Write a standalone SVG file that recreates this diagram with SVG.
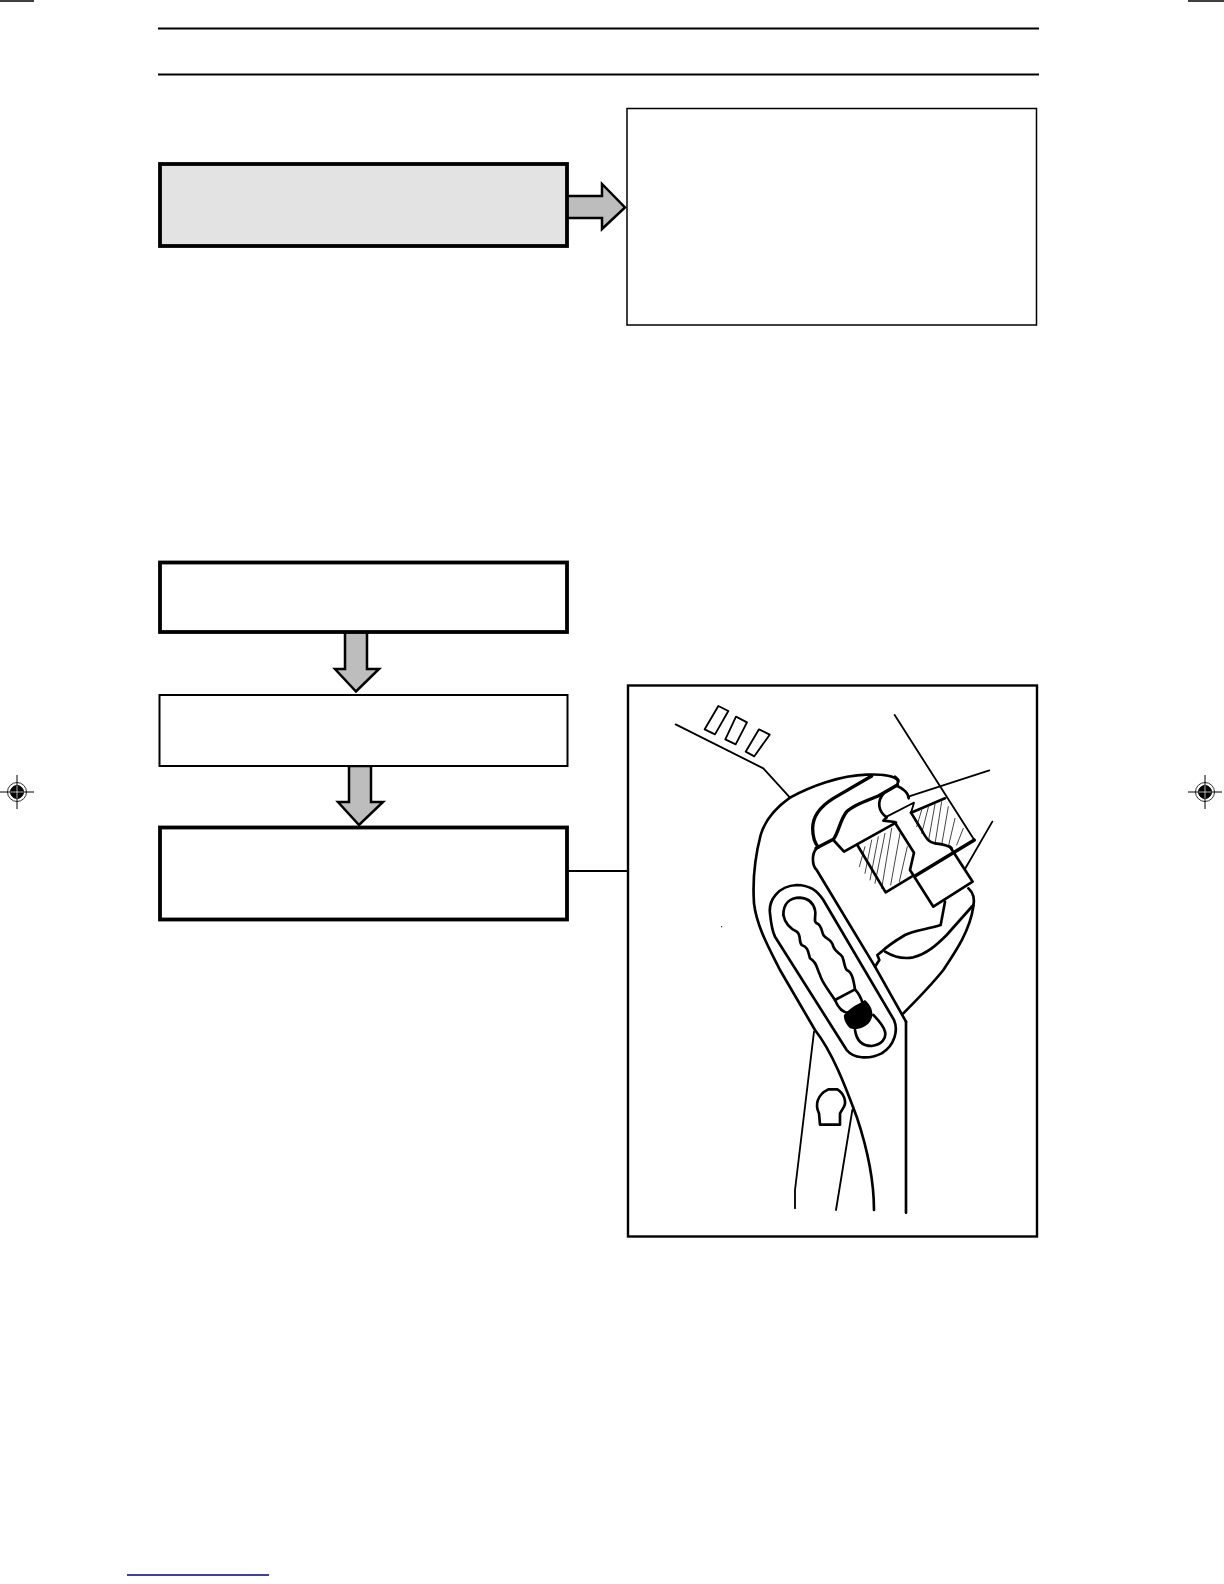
<svg xmlns="http://www.w3.org/2000/svg" width="1224" height="1584" viewBox="0 0 1224 1584">
<style>
.k{fill:none;stroke:#000;stroke-linejoin:round;stroke-linecap:round}
.h{stroke-width:10}.m{stroke-width:8}.t{stroke-width:5.500}.x{stroke-width:2.200}
.box{fill:#fff;stroke:#000}
.arr{fill:#bdbdbd;stroke:#000;stroke-width:2.500;stroke-linejoin:miter}
</style>
<defs>
<g id="reg">
<circle r="9.500" fill="none" stroke="#000" stroke-width="0.800"/>
<circle r="6.500" fill="#000"/>
<path d="M-17 0H17M0-17V17" stroke="#000" stroke-width="1"/>
<path d="M-6.500 0H6.500M0-6.500V6.500" stroke="#fff" stroke-width="0.700"/>
</g>
</defs>
<rect width="1224" height="1584" fill="#fff"/>
<g id="page-marks" stroke="#000" fill="none">
<path d="M0 1H34M1188 1H1224" stroke-width="1.500"/>
<path d="M158 28.500H1039M158 74.500H1039" stroke-width="2"/>
<use href="#reg" x="17" y="792"/>
<use href="#reg" x="1205" y="792"/>
<path d="M127 1575H269" stroke="#00007f" stroke-width="1.600"/>
</g>
<g id="connectors">
<path class="arr" d="M566 196H602V184L625 207.500L602 229V218H566Z"/>
<path class="arr" d="M345 632V669H335L356 691.500L379 669H367V632Z"/>
<path class="arr" d="M349 766V802H338L359 825L383 802H371V766Z"/>
<path d="M568 871H628" stroke="#000" stroke-width="1.800" fill="none"/>
</g>
<g id="node-top-left"><rect class="box" x="160" y="164" width="407" height="82" style="fill:#e3e3e3" stroke-width="3.800"/></g>
<g id="node-top-right"><rect class="box" x="627" y="108.500" width="409.500" height="216.500" stroke-width="1.500"/></g>
<g id="node-step-1"><rect class="box" x="160" y="562.500" width="407" height="69.500" stroke-width="3.800"/></g>
<g id="node-step-2"><rect class="box" x="159.500" y="695" width="408" height="71" stroke-width="2"/></g>
<g id="node-step-3"><rect class="box" x="160" y="827.500" width="407" height="92" stroke-width="3.800"/></g>
<g id="node-wrench">
<rect class="box" x="628" y="685.500" width="409" height="551" stroke-width="2.400"/>
<g transform="translate(620 670) scale(.33333)">
<path class="k x" d="M735 530L718 590M755 510L735 610M775 500L750 630M795 490L765 640M815 475L785 655M840 490L812 645M862 530L838 635M905 420L890 470M925 412L905 490M945 403L925 515M965 395L945 522M985 410L965 525M1005 445L985 530M1030 475L1010 525"/>
<path class="k t" d="M167 163L430 295L510 383"/>
<path class="k t" d="M295 108L325 123L285 193L254 178ZM348 140L381 157L347 223L316 208ZM417 178L449 194L403 259L377 245Z"/>
<path class="k t" d="M824 135L1063 510"/>
<path class="k t" d="M1108 301L865 380"/>
<path class="k t" d="M1117 455L1035 597"/>
<path class="k m" d="M835 335C830 318 790 312 740 314C660 316 570 350 510 383C465 415 435 450 422 495C405 560 398 640 402 700C410 770 450 840 480 900L585 1080C640 1150 680 1260 710 1340C740 1430 762 1530 762 1620"/>
<path class="k t" d="M582 1085L525 1560V1615"/>
<path class="k t" d="M697 1320L648 1620"/>
<path class="k m" d="M858 1055V1628"/>
<path class="k h" d="M755 318L640 385C600 410 578 440 578 475C578 500 585 520 595 532"/>
<path class="k h" d="M588 535L640 508C655 490 660 450 680 425C700 405 745 390 775 378L832 345"/>
<path class="k m" d="M640 510L672 545L828 458"/>
<path class="k m" d="M590 535C575 550 575 585 590 600L765 890L858 1055"/>
<path class="k m" d="M712 525L797 667L875 620"/>
<path class="k m" d="M825 458L882 548L870 600L940 710L1058 635L990 530"/>
<path class="k h" d="M885 618L1063 510"/>
<path class="k m" d="M873 428L975 385"/>
<path class="k m" d="M873 428L905 480C918 505 928 518 945 520C965 522 985 526 995 535"/>
<path class="k m" d="M830 347C850 355 866 370 866 385"/>
<path class="k m" d="M790 372C770 395 775 425 800 442"/>
<path class="k t" d="M800 440L868 405L882 398L873 428"/>
<path class="k m" d="M800 442L790 452L825 456"/>
<path class="k m" d="M832 345L835 330L825 320"/>
<path class="k m" d="M1045 655C1062 670 1064 690 1060 710C1050 780 1010 840 970 900C930 950 890 990 850 1030"/>
<path class="k m" d="M975 695L962 765C920 778 880 782 855 795C830 810 800 830 785 845L772 855L778 870L765 890"/>
<path class="k m" d="M795 845C820 860 850 868 880 862C920 852 950 825 980 795L1060 705"/>
<path class="k m" d="M450 730C445 690 475 648 530 645C570 646 590 660 610 690L822 1050C835 1080 825 1125 785 1150C745 1170 700 1165 680 1140L465 800C455 780 452 750 450 730Z"/>
<path class="k m" d="M490 735C490 700 510 683 540 683C565 685 580 700 585 720C590 740 578 752 590 760C605 765 605 785 610 795C620 810 635 805 640 830C645 845 660 850 667 860C675 880 672 890 680 900C695 905 700 925 705 958"/>
<path class="k m" d="M490 735C495 760 510 775 530 785C545 795 535 815 545 825C565 830 565 850 570 865C590 875 590 895 600 915C605 935 615 945 645 990"/>
<path class="k m" d="M645 990L705 958C718 972 724 985 728 1000"/>
<path class="k m" d="M645 990C655 1015 670 1030 690 1028"/>
<path d="M672 1035C690 1012 720 1000 735 990C752 1005 762 1025 755 1045C745 1075 705 1082 690 1075C680 1065 670 1050 672 1035Z" fill="#000"/>
<path class="k m" d="M705 1080C710 1115 730 1128 755 1128C785 1125 800 1105 795 1085C790 1065 775 1050 760 1035"/>
<path class="k m" d="M597 1330C585 1305 590 1275 625 1258H652C672 1270 680 1295 672 1310L660 1330V1364H600Z"/>
<circle cx="305" cy="770" r="1.800"/>
</g>
</g>
</svg>
